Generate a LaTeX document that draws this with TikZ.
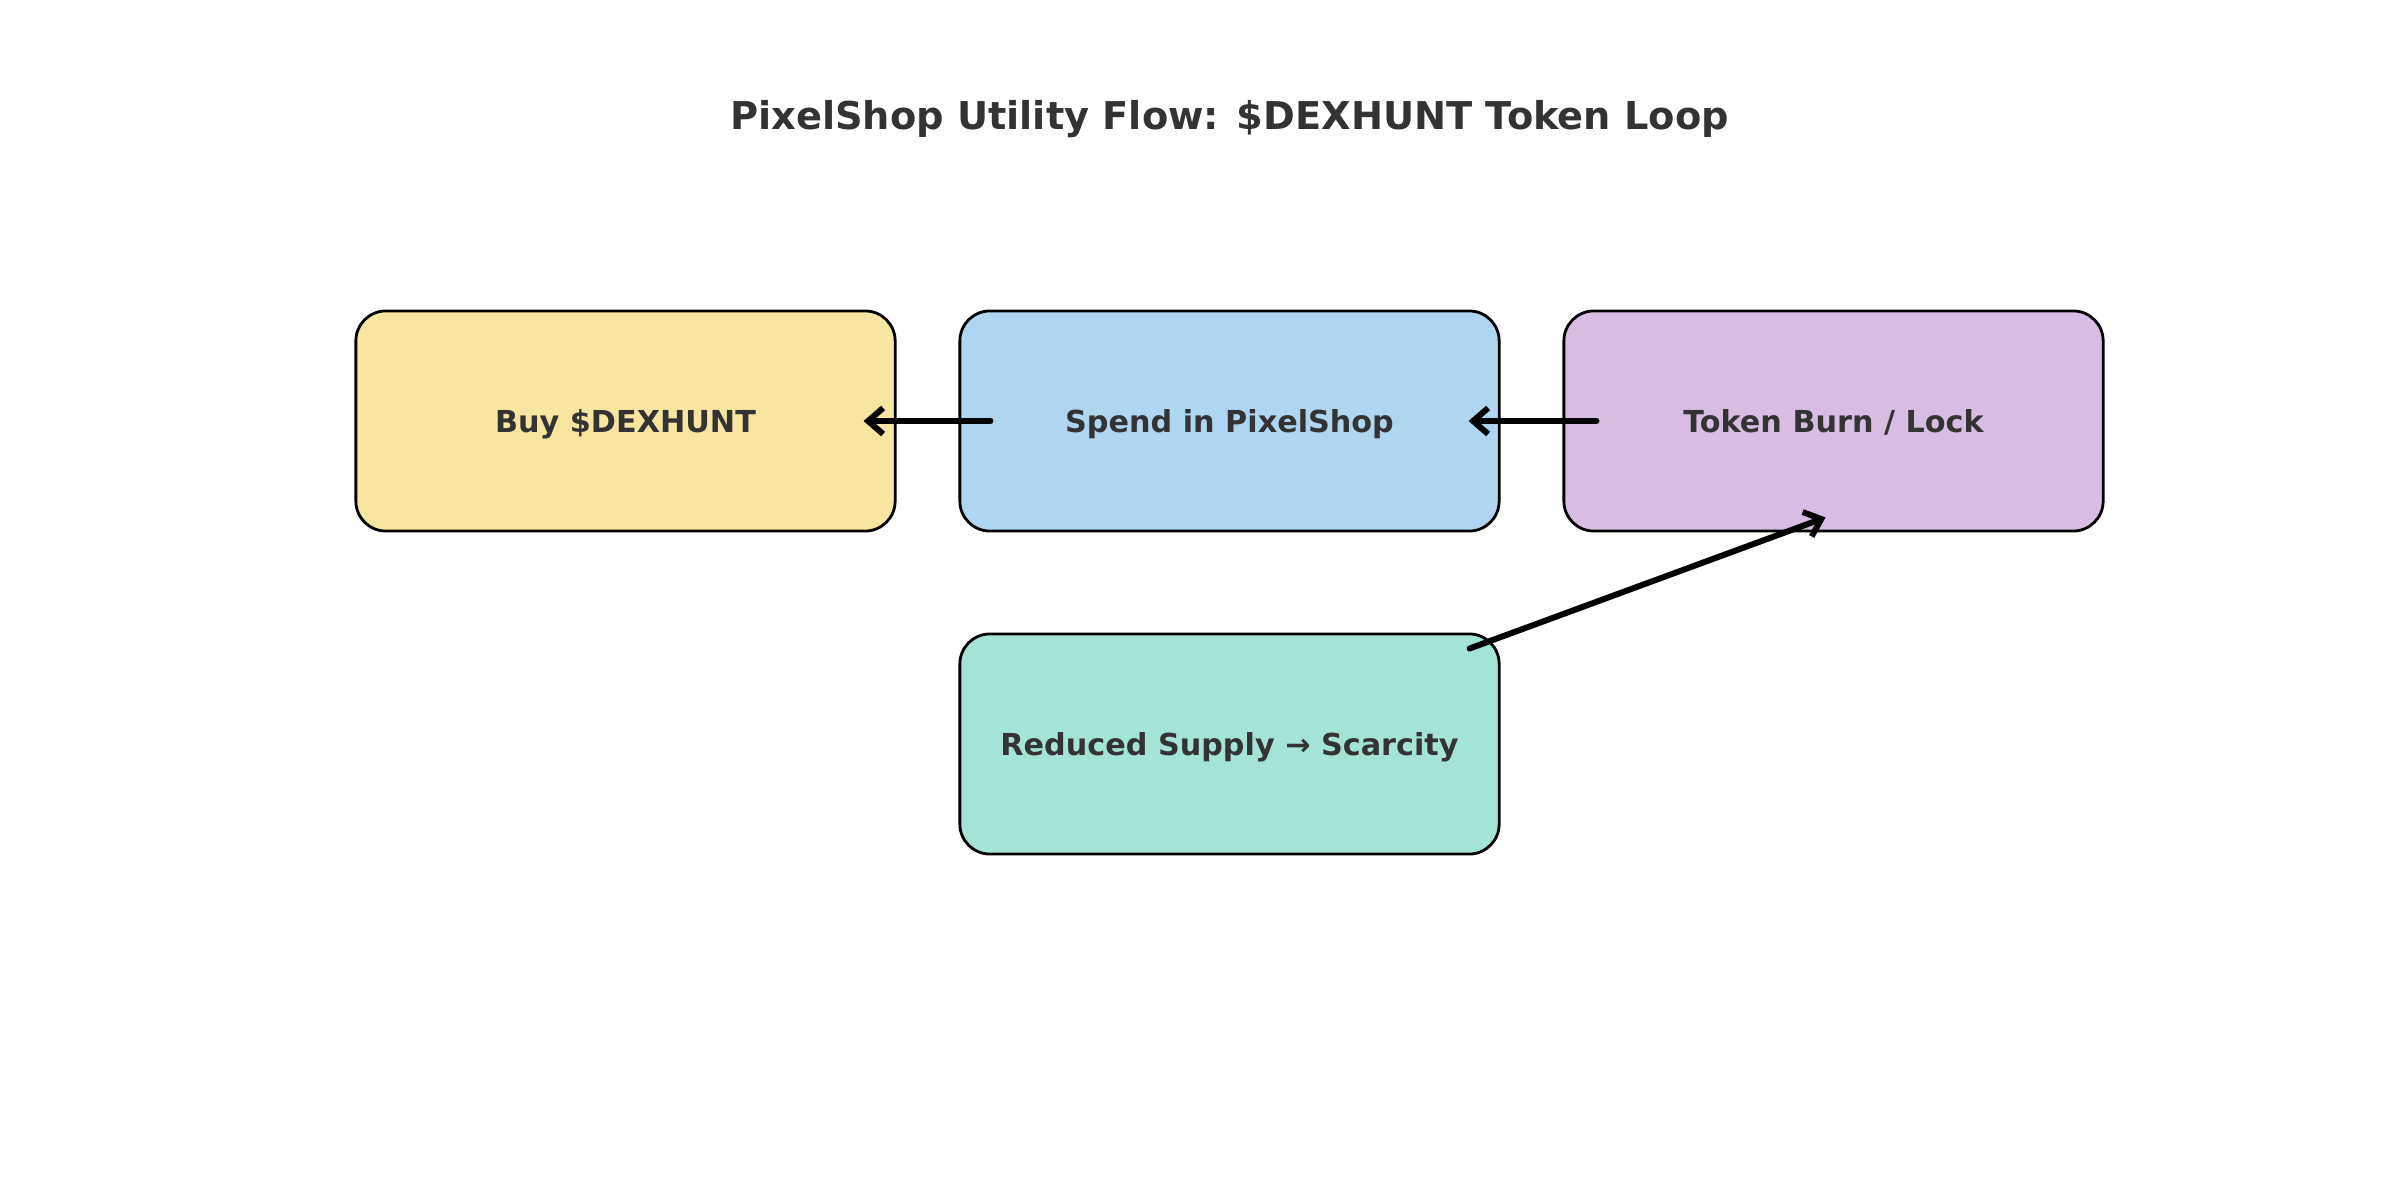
\documentclass[tikz,border=0pt]{standalone}
\usepackage{fontspec}
\setmainfont{DejaVu Sans}
\usepackage{tikz}
\usetikzlibrary{arrows.meta, calc}
\definecolor{txtcol}{HTML}{333333}
\definecolor{buycol}{HTML}{F8E6A0}
\definecolor{spendcol}{HTML}{AED6F1}
\definecolor{burncol}{HTML}{D7BDE2}
\definecolor{supplycol}{HTML}{A3E4D7}

\begin{document}
\begin{tikzpicture}[x=0.01cm, y=-0.01cm,
		box/.style={draw=black, line width=0.8pt, rounded corners=0.3cm, minimum width=5.39cm, minimum height=2.2cm, text depth=0pt, text=txtcol, font=\fontsize{8.6}{10}\selectfont\bfseries},
		flow/.style={-{Straight Barb[length=0.15cm, width=0.26cm]}, line width=1.7pt, line cap=round}]
			\useasboundingbox (0,0) rectangle (2400,1200);
			\node[text=txtcol, text depth=0pt, font=\fontsize{10.9}{13}\selectfont\bfseries] (title) at (1229.5,115) {PixelShop Utility Flow: \$DEXHUNT Token Loop};
			\node[box, fill=buycol] (buy) at (625.5,421) {Buy \$DEXHUNT};
			\node[box, fill=spendcol] (spend) at (1229.5,421) {Spend in PixelShop};
			\node[box, fill=burncol] (burn) at (1833.5,421) {Token Burn / Lock};
			\node[box, fill=supplycol] (supply) at (1229.5,744) {Reduced Supply → Scarcity};
			\draw[flow, shorten <=-0.32cm, shorten >=-0.33cm] (spend.west) -- (buy.east);
			\draw[flow, shorten <=-0.34cm, shorten >=-0.32cm] (burn.west) -- (spend.east);
			\draw[flow] ($(supply.north east)+(-31,16)$) -- ($(burn.south)+(-8,-15)$);
		\end{tikzpicture}
\end{document}
